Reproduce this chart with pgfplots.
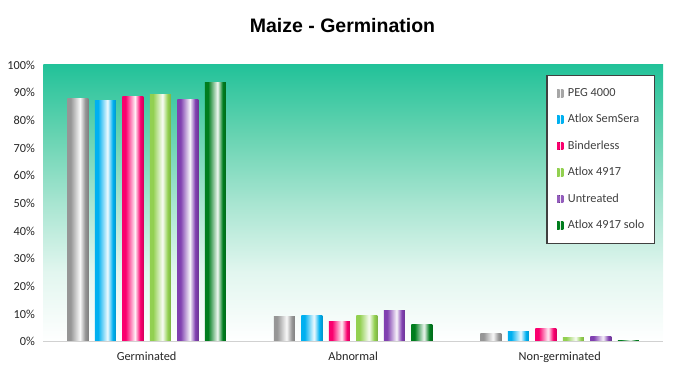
\documentclass[border=0pt]{standalone}
\usepackage{pgfplots}
\pgfplotsset{compat=1.18}
\usepackage{fontspec}
\setmainfont{Carlito}
\newfontfamily\titlefont{Liberation Sans}

\definecolor{cgray}{RGB}{150,150,150}
\definecolor{cblue}{RGB}{0,176,240}
\definecolor{cpink}{RGB}{250,0,110}
\definecolor{clgreen}{RGB}{146,208,80}
\definecolor{cpurple}{RGB}{128,64,176}
\definecolor{cdgreen}{RGB}{0,125,30}

\newcommand\cylshade[2]{\pgfdeclarehorizontalshading{#1}{100bp}{color(0bp)=(#2); color(32.5bp)=(#2); color(55bp)=(#2!6); color(67.5bp)=(#2); color(75bp)=(#2!85!black); color(100bp)=(#2!85!black)}}
\cylshade{cylgray}{cgray}
\cylshade{cylblue}{cblue}
\cylshade{cylpink}{cpink}
\cylshade{cyllgreen}{clgreen}
\cylshade{cylpurple}{cpurple}
\cylshade{cyldgreen}{cdgreen}

\pgfdeclareverticalshading{bggrad}{100bp}{color(0bp)=(white); color(25bp)=(white); color(37.5bp)=(rgb,255:red,226;green,246;blue,239); color(50bp)=(rgb,255:red,168;green,229;blue,209); color(62.5bp)=(rgb,255:red,102;green,211;blue,177); color(75bp)=(rgb,255:red,34;green,194;blue,153); color(100bp)=(rgb,255:red,34;green,194;blue,153)}

\pgfplotsset{legicon/.style={legend image code/.code={\fill[left color=#1, right color=#1] (0pt,-0.5pt) rectangle (2.6pt,7pt); \fill[left color=#1, right color=#1] (3.8pt,-0.5pt) rectangle (6.4pt,7pt);}}}

\begin{document}
\begin{tikzpicture}
\useasboundingbox (0pt,0pt) rectangle (677pt,374pt);
\begin{axis}[
  at={(43.3pt,32.3pt)}, anchor=south west,
  scale only axis, width=619.7pt, height=276.7pt,
  ymin=0, ymax=100, xmin=-0.5, xmax=2.5,
  ybar, bar width=21pt,
  xtick={0,1,2}, xticklabels={Germinated,Abnormal,Non-germinated},
  ytick={0,10,...,100},
  /pgf/number format/assume math mode=true,
  yticklabel={\pgfmathprintnumber{\tick}\%},
  major tick length=0pt,
  axis line style={draw=none},
  tick style={draw=none},
  tick label style={font=\fontsize{12.3}{14}\selectfont, text=black!85},
  yticklabel style={inner sep=0pt, xshift=-8.3pt},
  xticklabel style={inner sep=0pt, anchor=base, yshift=-19.3pt},
  axis background/.style={shade, shading=bggrad},
  legend cell align=left,
  legend style={at={(1,1)}, anchor=north east, xshift=-8pt, yshift=-10pt,
    draw=black!75, line width=1.2pt, fill=white,
    font=\fontsize{12.3}{14}\selectfont, text=black!75,
    inner xsep=10pt, inner ysep=12.5pt, row sep=15.4pt,
    nodes={inner sep=0pt, text height=8.5pt, text depth=2.5pt, anchor=base west},
    /tikz/every odd column/.append style={column sep=4.5pt}},
  every axis plot post/.append style={draw=none},
  after end axis/.code={\draw[black!18, line width=0.8pt] (rel axis cs:0,0) -- (rel axis cs:1,0);},
]
% one plot per bar so that every bar gets its own cylinder shading
% Germinated (with legend entries)
\addplot[shade, shading=cylgray,   bar shift=-68.75pt, legicon=cgray!85] coordinates {(0,88.0)};
\addlegendentry{PEG 4000}
\addplot[shade, shading=cylblue,   bar shift=-41.25pt, legicon=cblue] coordinates {(0,87.0)};
\addlegendentry{Atlox SemSera}
\addplot[shade, shading=cylpink,   bar shift=-13.75pt, legicon=cpink] coordinates {(0,88.5)};
\addlegendentry{Binderless}
\addplot[shade, shading=cyllgreen, bar shift=13.75pt, legicon=clgreen]  coordinates {(0,89.2)};
\addlegendentry{Atlox 4917}
\addplot[shade, shading=cylpurple, bar shift=41.25pt, legicon=cpurple!85]  coordinates {(0,87.6)};
\addlegendentry{Untreated}
\addplot[shade, shading=cyldgreen, bar shift=68.75pt, legicon=cdgreen]  coordinates {(0,93.7)};
\addlegendentry{Atlox 4917 solo}
% Abnormal
\addplot[forget plot, shade, shading=cylgray,   bar shift=-68.75pt] coordinates {(1,9.2)};
\addplot[forget plot, shade, shading=cylblue,   bar shift=-41.25pt] coordinates {(1,9.6)};
\addplot[forget plot, shade, shading=cylpink,   bar shift=-13.75pt] coordinates {(1,7.2)};
\addplot[forget plot, shade, shading=cyllgreen, bar shift=13.75pt]  coordinates {(1,9.5)};
\addplot[forget plot, shade, shading=cylpurple, bar shift=41.25pt]  coordinates {(1,11.1)};
\addplot[forget plot, shade, shading=cyldgreen, bar shift=68.75pt]  coordinates {(1,6.1)};
% Non-germinated
\addplot[forget plot, shade, shading=cylgray,   bar shift=-68.75pt] coordinates {(2,3.1)};
\addplot[forget plot, shade, shading=cylblue,   bar shift=-41.25pt] coordinates {(2,3.7)};
\addplot[forget plot, shade, shading=cylpink,   bar shift=-13.75pt] coordinates {(2,4.7)};
\addplot[forget plot, shade, shading=cyllgreen, bar shift=13.75pt]  coordinates {(2,1.6)};
\addplot[forget plot, shade, shading=cylpurple, bar shift=41.25pt]  coordinates {(2,1.7)};
\addplot[forget plot, shade, shading=cyldgreen, bar shift=68.75pt]  coordinates {(2,0.6)};
\end{axis}
\node[font=\titlefont\bfseries\fontsize{19.5}{22}\selectfont, anchor=base] at (342.5pt,341.7pt) {Maize - Germination};
\end{tikzpicture}
\end{document}
